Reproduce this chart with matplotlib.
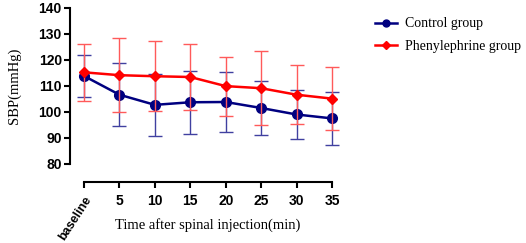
import matplotlib
matplotlib.use("Agg")
import matplotlib.pyplot as plt
from matplotlib.lines import Line2D

# data
tick_labels = ["baseline", "5", "10", "15", "20", "25", "30", "35"]
control_mean = [113.7, 106.5, 102.6, 103.6, 103.7, 101.4, 98.9, 97.4]
control_sd = [8.2, 12.2, 12.0, 12.0, 11.6, 10.5, 9.4, 10.2]
phenyl_mean = [115.1, 114.0, 113.6, 113.3, 109.8, 109.0, 106.5, 105.0]
phenyl_sd = [11.0, 14.3, 13.4, 12.7, 11.3, 14.2, 11.4, 12.0]

serif = ["Liberation Serif", "DejaVu Serif"]
sans = ["Liberation Sans", "DejaVu Sans"]

fig = plt.figure(figsize=(5.26, 2.43), dpi=100)
W, H = 526, 243
x0, x1 = 84, 332
ytop, ybot = 7.5, 163.7
ax = fig.add_axes([x0 / W, 1 - ybot / H, (x1 - x0) / W, (ybot - ytop) / H])

xs = list(range(len(tick_labels)))

ax.errorbar(xs, control_mean, yerr=control_sd, color="#000080", ecolor="#4040a0",
            elinewidth=1.0, capsize=5, capthick=1.0, lw=1.8, marker="o", ms=7,
            clip_on=False, zorder=3)
ax.errorbar(xs, phenyl_mean, yerr=phenyl_sd, color="#ff0000", ecolor="#ff5a5a",
            elinewidth=1.0, capsize=5, capthick=1.0, lw=1.8, marker="D", ms=5.5,
            clip_on=False, zorder=4)

ax.set_xlim(0, 7)
ax.set_ylim(80, 140)
ax.set_yticks(range(80, 141, 10))
ax.set_xticks(xs)
ax.set_xticklabels(tick_labels)

for side in ("top", "right"):
    ax.spines[side].set_visible(False)
ax.spines["left"].set_position(("outward", 10))
ax.spines["bottom"].set_position(("outward", 13))
for side in ("left", "bottom"):
    ax.spines[side].set_linewidth(1.5)
ax.tick_params(width=1.5, length=4, pad=2)
ax.tick_params(axis="x", pad=5)

for lab in ax.get_xticklabels() + ax.get_yticklabels():
    lab.set_fontfamily(sans)
    lab.set_fontweight("bold")
    lab.set_fontsize(10)
base = ax.get_xticklabels()[0]
base.set_fontsize(9)
base.set_rotation(57)
base.set_ha("right")
base.set_rotation_mode("anchor")

fig.text(14 / W, 1 - 86 / H, "SBP(mmHg)", rotation=90, ha="center", va="center",
         fontfamily=serif, fontsize=10.5)
fig.text(208 / W, 1 - 225 / H, "Time after spinal injection(min)", ha="center", va="center",
         fontfamily=serif, fontsize=10.5)

handles = [
    Line2D([], [], color="#000080", lw=1.8, marker="o", ms=5),
    Line2D([], [], color="#ff0000", lw=1.8, marker="D", ms=4.5),
]
fig.legend(handles, ["Control group", "Phenylephrine group"], loc="upper left",
           bbox_to_anchor=(362 / W, 1 - 5 / H), frameon=False,
           prop={"family": serif, "size": 10}, handlelength=1.6,
           labelspacing=0.65, handletextpad=0.6)

fig.savefig("out.png", dpi=100)
